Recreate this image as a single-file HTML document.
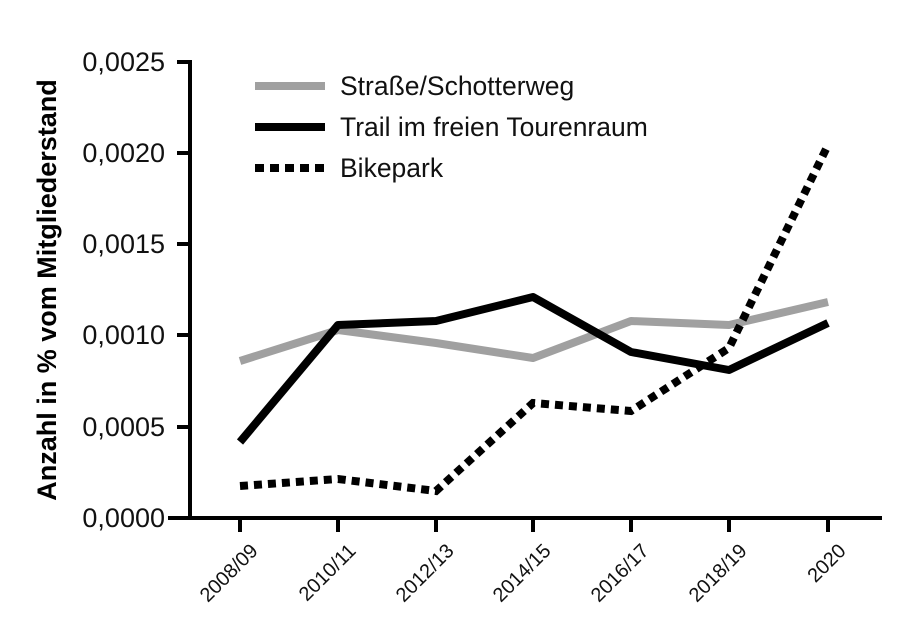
<!DOCTYPE html>
<html><head><meta charset="utf-8"><style>body{margin:0;background:#fff}</style></head><body>
<svg width="922" height="633" xmlns="http://www.w3.org/2000/svg" font-family="Liberation Sans, Arial, sans-serif">
<rect width="922" height="633" fill="#fff"/>
<g stroke="#000" stroke-width="4" fill="none">
<line x1="190" y1="60" x2="190" y2="520"/>
<line x1="168" y1="518" x2="882" y2="518"/>
<line x1="177" y1="62" x2="190" y2="62"/>
<line x1="177" y1="153" x2="190" y2="153"/>
<line x1="177" y1="244" x2="190" y2="244"/>
<line x1="177" y1="335" x2="190" y2="335"/>
<line x1="177" y1="427" x2="190" y2="427"/>
<line x1="240" y1="518" x2="240" y2="532"/><line x1="338" y1="518" x2="338" y2="532"/><line x1="436" y1="518" x2="436" y2="532"/><line x1="533" y1="518" x2="533" y2="532"/><line x1="631" y1="518" x2="631" y2="532"/><line x1="729" y1="518" x2="729" y2="532"/><line x1="828" y1="518" x2="828" y2="532"/>
</g>
<g font-size="27" text-anchor="end" fill="#111">
<text x="165" y="71">0,0025</text><text x="165" y="162">0,0020</text><text x="165" y="253">0,0015</text><text x="165" y="344">0,0010</text><text x="165" y="436">0,0005</text><text x="165" y="527">0,0000</text>
</g>
<text transform="translate(56,290) rotate(-90)" font-size="27" font-weight="bold" text-anchor="middle">Anzahl in % vom Mitgliederstand</text>
<g font-size="20" text-anchor="end" fill="#111">
<text transform="translate(259,552) rotate(-45)">2008/09</text>
<text transform="translate(357,552) rotate(-45)">2010/11</text>
<text transform="translate(455,552) rotate(-45)">2012/13</text>
<text transform="translate(552,552) rotate(-45)">2014/15</text>
<text transform="translate(650,552) rotate(-45)">2016/17</text>
<text transform="translate(748,552) rotate(-45)">2018/19</text>
<text transform="translate(847,552) rotate(-45)">2020</text>
</g>
<g fill="none" stroke-width="8" stroke-linejoin="round">
<polyline stroke="#a0a0a0" points="240,361 338,330 436,343 533,358 631,321 729,325 828,302"/>
<polyline stroke="#000" points="240,442 338,325 436,321 533,297 631,352 729,370 828,323"/>
<polyline stroke="#000" stroke-dasharray="8,6" stroke-linejoin="miter" points="240,486 338,479 436,491 533,403 631,411 729,348 828,145"/>
<line x1="255" y1="86" x2="325" y2="86" stroke="#a0a0a0"/>
<line x1="255" y1="127" x2="325" y2="127" stroke="#000"/>
<line x1="255" y1="168" x2="325" y2="168" stroke="#000" stroke-dasharray="9,6"/>
</g>
<g font-size="26.5" fill="#111">
<text x="340" y="95">Straße/Schotterweg</text>
<text x="340" y="136">Trail im freien Tourenraum</text>
<text x="340" y="177">Bikepark</text>
</g>
</svg>
</body></html>
